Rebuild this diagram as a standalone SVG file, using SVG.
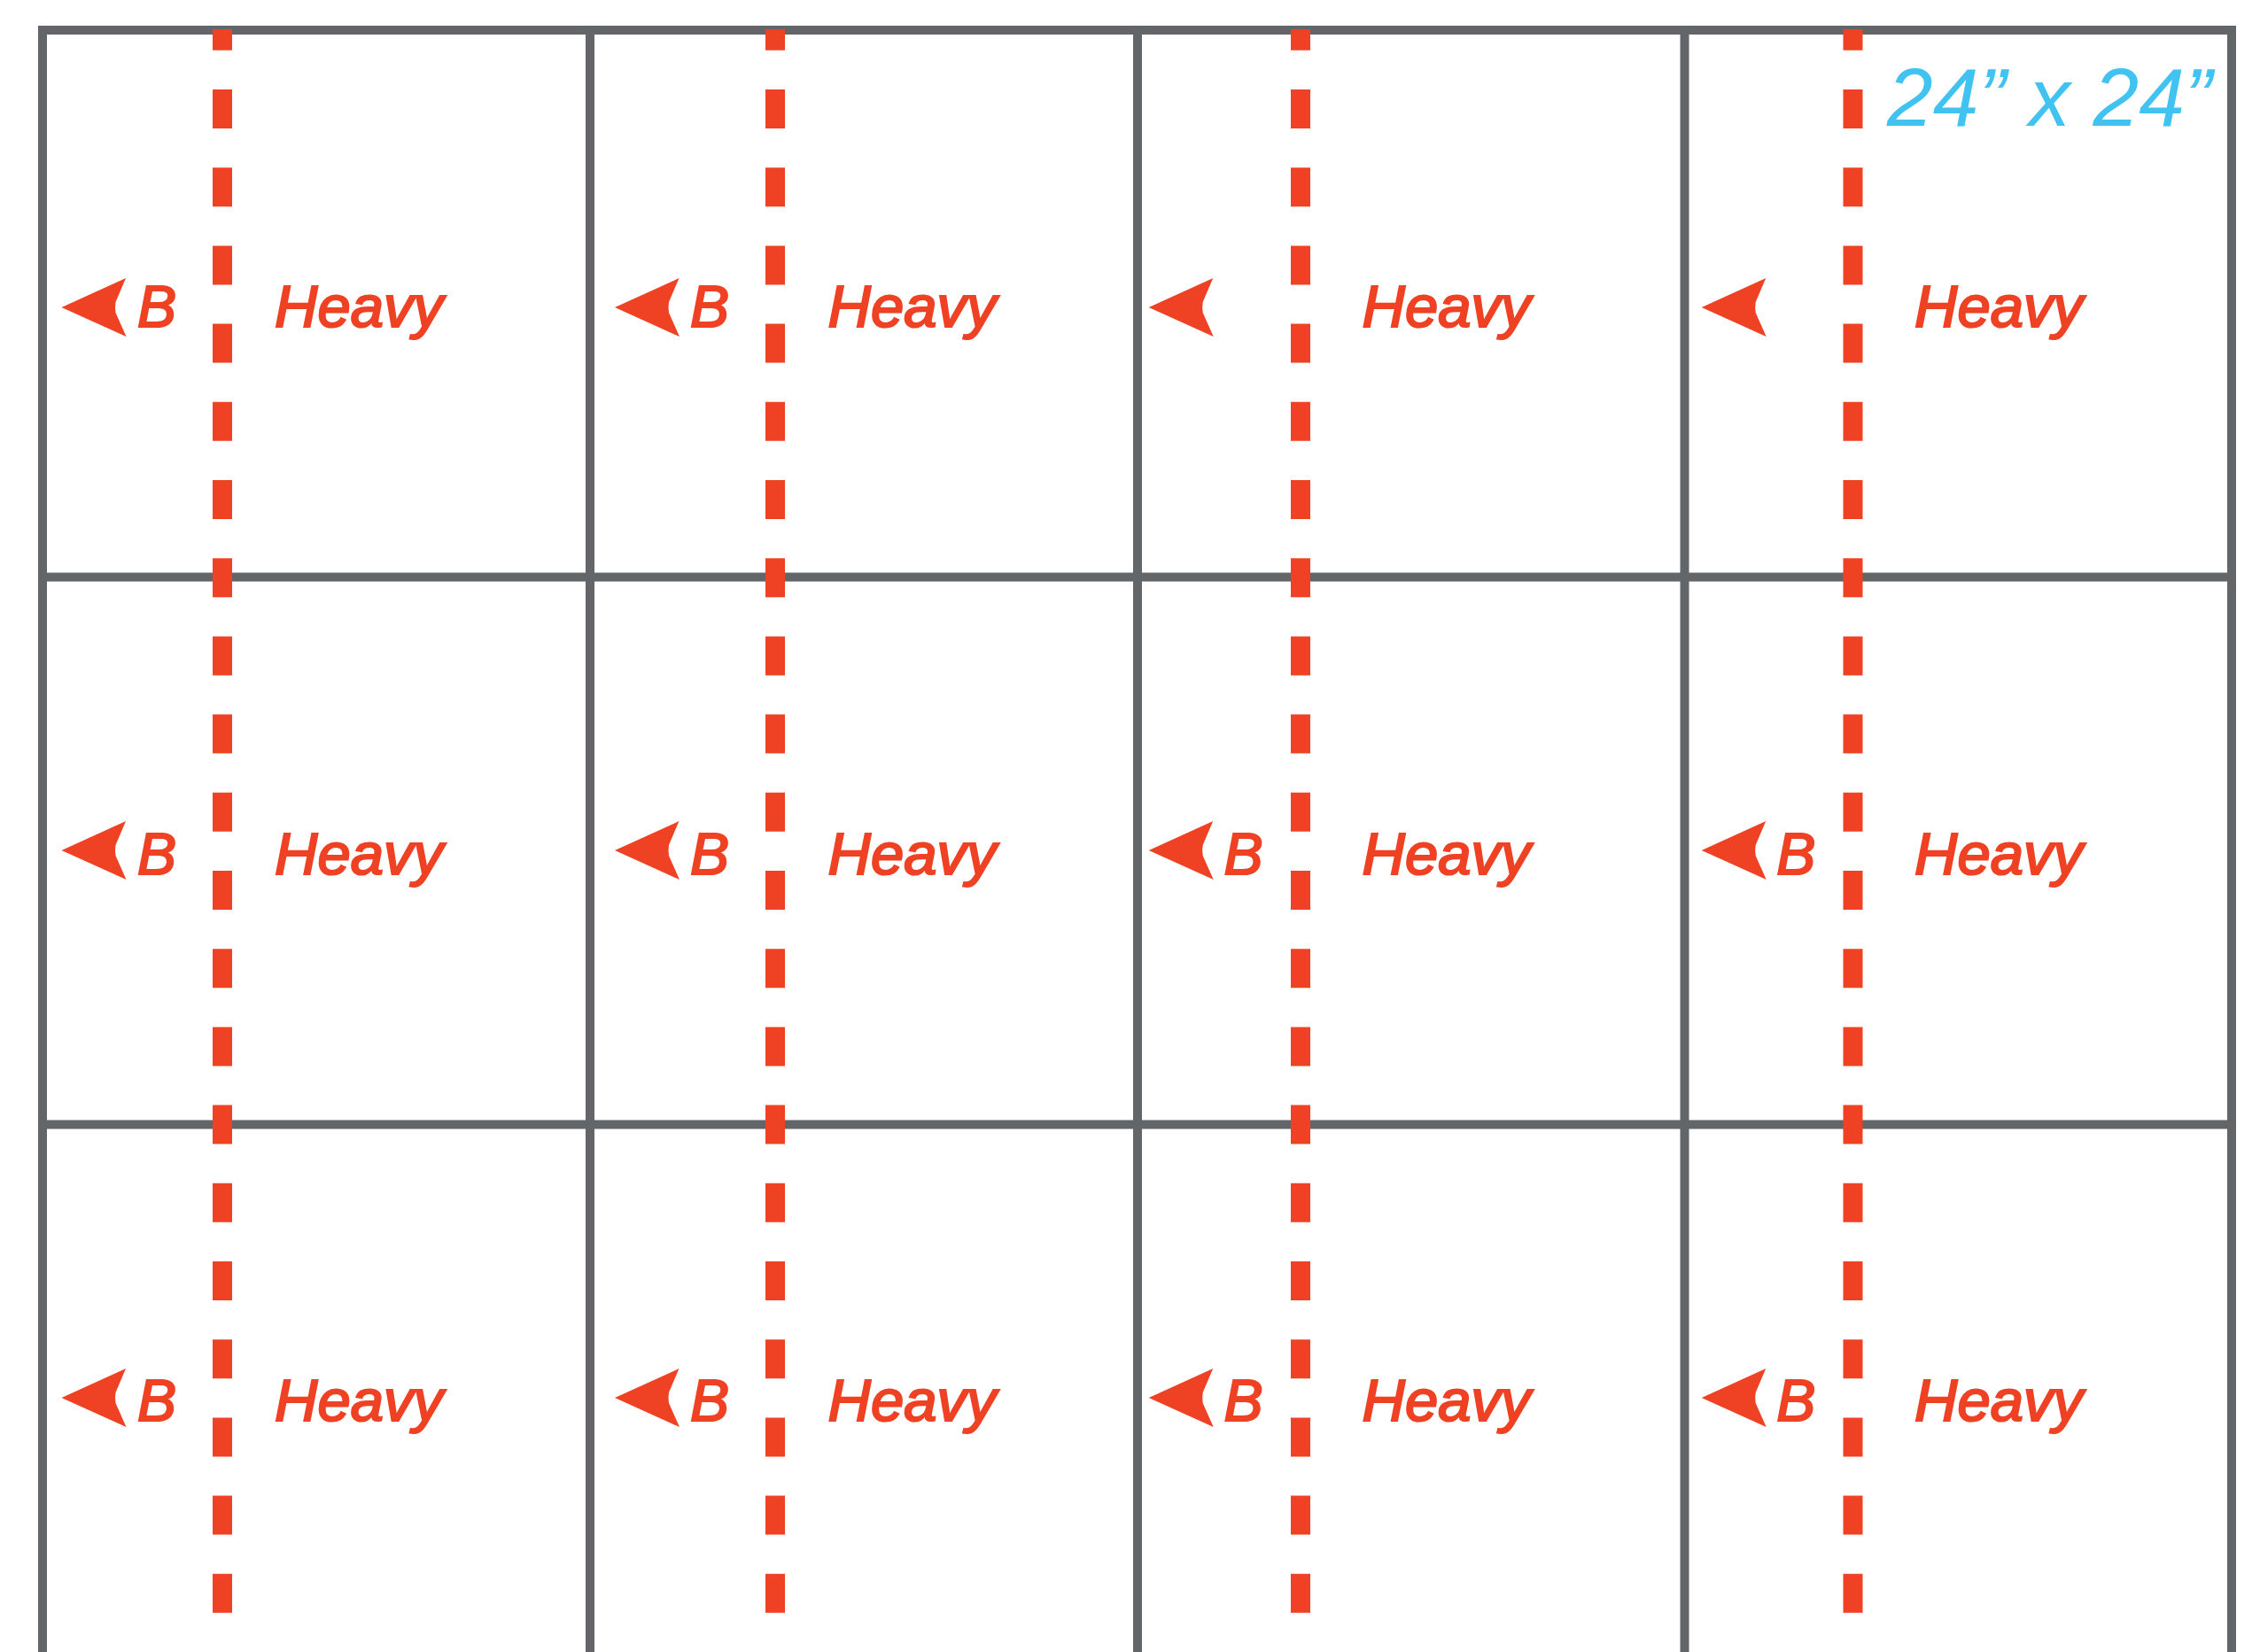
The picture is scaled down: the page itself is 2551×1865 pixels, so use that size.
<svg xmlns="http://www.w3.org/2000/svg" xmlns:xlink="http://www.w3.org/1999/xlink" width="2551" height="1865" viewBox="0 0 2551 1865">
<style>
.grid{fill:none;stroke:#636669;stroke-width:10;stroke-linecap:square}
.dash{fill:none;stroke:#EF4123;stroke-width:22;stroke-dasharray:44 44.2;stroke-dashoffset:20.2}
.lbl{font-family:"Liberation Sans",Arial,sans-serif;font-style:italic;fill:#EF4123;stroke:#EF4123;stroke-width:2.2}
.b{font-size:66px}
.h{font-size:67px}
.dim{font-family:"Liberation Sans",Arial,sans-serif;font-style:italic;font-size:93px;fill:#40C3F0}
.arr{fill:#EF4123}
</style>
<defs>
<path id="arr" d="M0,0 L72.5,-33 L61,-6 L60.5,0 L61,6 L73,33 Z"/>
</defs>
<rect width="2551" height="1865" fill="#ffffff"/>
<g id="grid">
<path class="grid" d="M48,34 H2519 M48,651.5 H2519 M48,1269.5 H2519 M48,34 V1880 M666,34 V1880 M1284,34 V1880 M1901.5,34 V1880 M2519,34 V1880"/>
</g>
<g id="connectors">
<line class="dash" x1="251" y1="33" x2="251" y2="1880"/>
<line class="dash" x1="875" y1="33" x2="875" y2="1880"/>
<line class="dash" x1="1468" y1="33" x2="1468" y2="1880"/>
<line class="dash" x1="2091.5" y1="33" x2="2091.5" y2="1880"/>
</g>
<g id="cell-r1c1"><use href="#arr" class="arr" x="69.5" y="347"/><text class="lbl b" x="155" y="368.5">B</text><text class="lbl h" x="310" y="368.5">Heavy</text></g>
<g id="cell-r1c2"><use href="#arr" class="arr" x="694" y="347"/><text class="lbl b" x="779" y="368.5">B</text><text class="lbl h" x="934.5" y="368.5">Heavy</text></g>
<g id="cell-r1c3"><use href="#arr" class="arr" x="1296.7" y="347"/><text class="lbl h" x="1537.5" y="368.5">Heavy</text></g>
<g id="cell-r1c4"><use href="#arr" class="arr" x="1920.7" y="347"/><text class="lbl h" x="2161" y="368.5">Heavy</text><text class="dim" x="2130" y="142">24” x 24”</text></g>
<g id="cell-r2c1"><use href="#arr" class="arr" x="69.5" y="960"/><text class="lbl b" x="155" y="986.5">B</text><text class="lbl h" x="310" y="986.5">Heavy</text></g>
<g id="cell-r2c2"><use href="#arr" class="arr" x="694" y="960"/><text class="lbl b" x="779" y="986.5">B</text><text class="lbl h" x="934.5" y="986.5">Heavy</text></g>
<g id="cell-r2c3"><use href="#arr" class="arr" x="1296.7" y="960"/><text class="lbl b" x="1381.5" y="986.5">B</text><text class="lbl h" x="1537.5" y="986.5">Heavy</text></g>
<g id="cell-r2c4"><use href="#arr" class="arr" x="1920.7" y="960"/><text class="lbl b" x="2005.3" y="986.5">B</text><text class="lbl h" x="2161" y="986.5">Heavy</text></g>
<g id="cell-r3c1"><use href="#arr" class="arr" x="69.5" y="1578"/><text class="lbl b" x="155" y="1603.5">B</text><text class="lbl h" x="310" y="1603.5">Heavy</text></g>
<g id="cell-r3c2"><use href="#arr" class="arr" x="694" y="1578"/><text class="lbl b" x="779" y="1603.5">B</text><text class="lbl h" x="934.5" y="1603.5">Heavy</text></g>
<g id="cell-r3c3"><use href="#arr" class="arr" x="1296.7" y="1578"/><text class="lbl b" x="1381.5" y="1603.5">B</text><text class="lbl h" x="1537.5" y="1603.5">Heavy</text></g>
<g id="cell-r3c4"><use href="#arr" class="arr" x="1920.7" y="1578"/><text class="lbl b" x="2005.3" y="1603.5">B</text><text class="lbl h" x="2161" y="1603.5">Heavy</text></g>
</svg>
